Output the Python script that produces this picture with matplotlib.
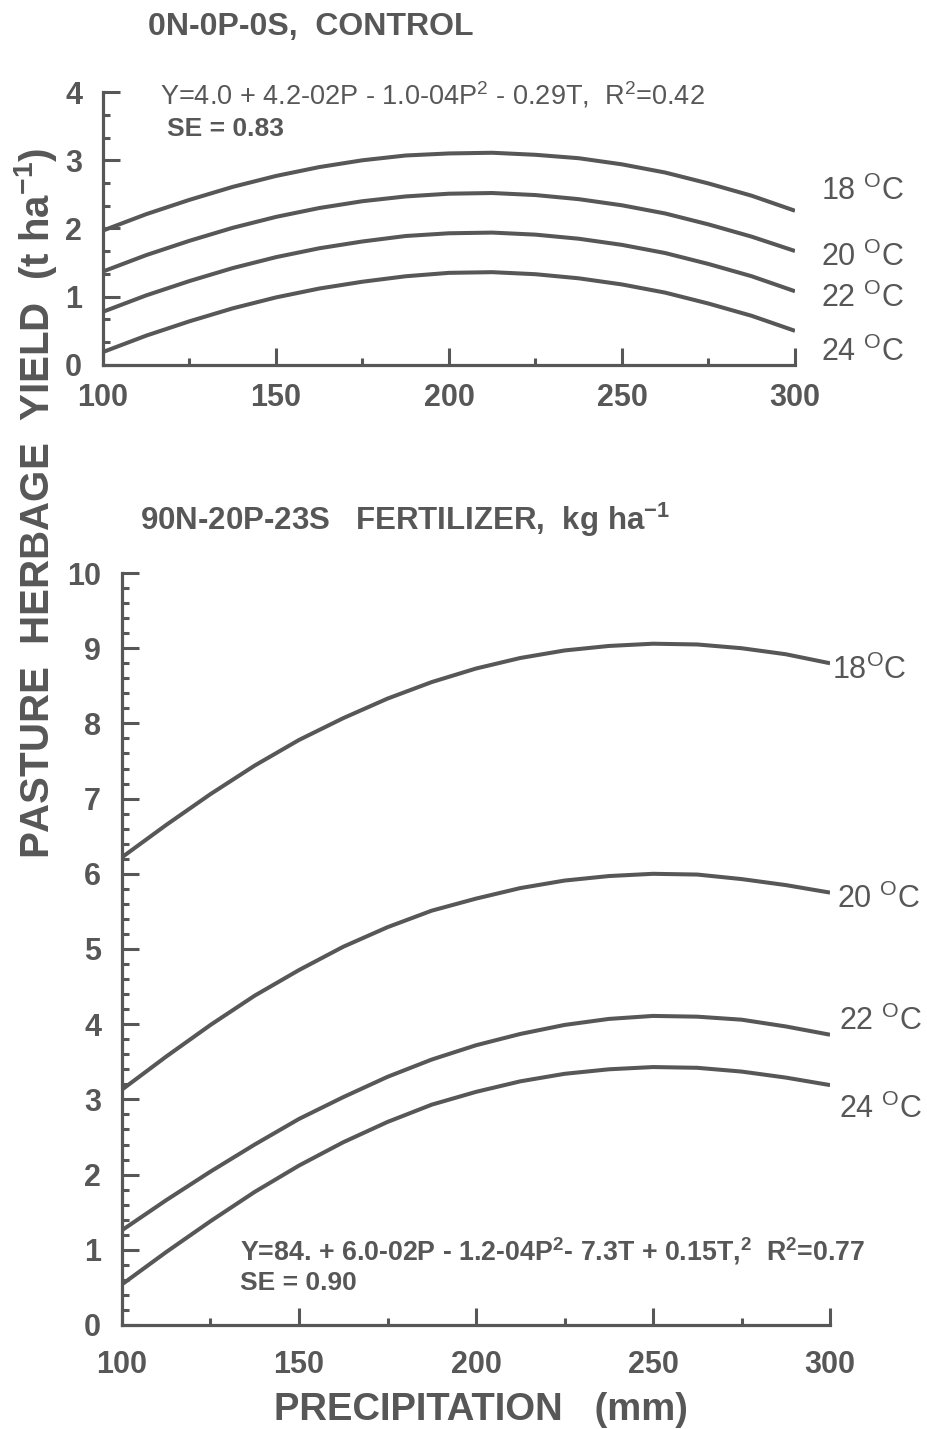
import matplotlib
matplotlib.use("Agg")
import matplotlib.pyplot as plt
from matplotlib.ticker import FixedLocator, MultipleLocator
from matplotlib import font_manager

# precipitation (mm) at which the curves were read
precip = [100, 112.5, 125, 137.5, 150, 162.5, 175, 187.5, 200,
          212.5, 225, 237.5, 250, 262.5, 275, 287.5, 300]

# control plot 0N-0P-0S, yield t/ha
temps = ["18", "20", "22", "24"]
ctrl_18 = [1.97, 2.21, 2.42, 2.61, 2.77, 2.90, 3.00, 3.07, 3.10, 3.11, 3.08, 3.03, 2.94, 2.82, 2.66, 2.48, 2.26]
ctrl_20 = [1.37, 1.61, 1.82, 2.01, 2.17, 2.30, 2.40, 2.47, 2.51, 2.52, 2.49, 2.43, 2.34, 2.22, 2.06, 1.88, 1.67]
ctrl_22 = [0.78, 1.02, 1.23, 1.42, 1.58, 1.71, 1.81, 1.89, 1.93, 1.94, 1.91, 1.85, 1.76, 1.64, 1.48, 1.30, 1.08]
ctrl_24 = [0.19, 0.43, 0.64, 0.83, 0.99, 1.12, 1.22, 1.30, 1.35, 1.36, 1.33, 1.27, 1.18, 1.06, 0.90, 0.72, 0.50]

# fertilized plot 90N-20P-23S
fert_18 = [6.22, 6.65, 7.06, 7.44, 7.78, 8.07, 8.33, 8.55, 8.73, 8.87, 8.97, 9.03, 9.06, 9.05, 9.00, 8.92, 8.80]
fert_20 = [3.13, 3.57, 3.99, 4.38, 4.72, 5.03, 5.29, 5.51, 5.67, 5.81, 5.91, 5.97, 6.00, 5.99, 5.93, 5.85, 5.75]
fert_22 = [1.26, 1.66, 2.04, 2.40, 2.74, 3.03, 3.30, 3.53, 3.72, 3.87, 3.99, 4.07, 4.11, 4.10, 4.06, 3.97, 3.86]
fert_24 = [0.54, 0.97, 1.38, 1.77, 2.12, 2.43, 2.70, 2.93, 3.10, 3.24, 3.34, 3.40, 3.43, 3.42, 3.37, 3.29, 3.19]

x_major = [100, 150, 200, 250, 300]
x_minor = [125, 175, 225, 275]

GREY = "#575757"
plt.rcParams['font.family'] = ['Liberation Sans', 'DejaVu Sans']
plt.rcParams['mathtext.default'] = 'regular'
plt.rcParams['text.color'] = GREY

names = [f.name for f in font_manager.fontManager.ttflist]
narrow = 'Liberation Sans Narrow' if 'Liberation Sans Narrow' in names else 'Liberation Sans'

fig = plt.figure(figsize=(9.27, 14.29), dpi=100)
ax1 = fig.add_axes([0.1111, 0.7446, 0.7465, 0.1910])
ax2 = fig.add_axes([0.1316, 0.0728, 0.7638, 0.5262])


def style(ax, ymax, yminor, xpad, ypad):
    ax.set_xlim(100, 300)
    ax.set_ylim(0, ymax)
    for s in ['top', 'right']:
        ax.spines[s].set_visible(False)
    for s in ['left', 'bottom']:
        ax.spines[s].set_linewidth(2.3)
        ax.spines[s].set_color(GREY)
    ax.xaxis.set_major_locator(FixedLocator(x_major))
    ax.xaxis.set_minor_locator(FixedLocator(x_minor))
    ax.yaxis.set_major_locator(MultipleLocator(1))
    ax.yaxis.set_minor_locator(MultipleLocator(yminor))
    ax.tick_params(which='major', direction='in', length=12, width=2.2, color=GREY,
                   labelsize=22, labelcolor=GREY)
    ax.tick_params(which='minor', direction='in', length=5, width=2.2, color=GREY)
    ax.tick_params(axis='x', which='major', pad=xpad)
    ax.tick_params(axis='y', which='major', pad=ypad)
    for lab in ax.get_xticklabels() + ax.get_yticklabels():
        lab.set_fontweight('bold')


style(ax1, 4, 1 / 3, 13, 15)
style(ax2, 10, 0.2, 18, 15)

for ys in [ctrl_18, ctrl_20, ctrl_22, ctrl_24]:
    ax1.plot(precip, ys, color=GREY, lw=2.9, solid_capstyle='butt')
for ys in [fert_18, fert_20, fert_22, fert_24]:
    ax2.plot(precip, ys, color=GREY, lw=2.9, solid_capstyle='butt')

# temperature labels
ctrl_lab_y = [2.55, 1.57, 0.97, 0.19]
for t, y in zip(temps, ctrl_lab_y):
    ax1.text(307.5, y, t + r' $^{O}$C', fontsize=22, va='center', ha='left', clip_on=False)
fert_lab = [(300.5, 8.70, ''), (302, 5.66, ' '), (302.5, 4.04, ' '), (302.5, 2.87, ' ')]
for t, (x, y, gap) in zip(temps, fert_lab):
    ax2.text(x, y, t + gap + r'$^{O}$C', fontsize=22, va='center', ha='left', clip_on=False)

# regression equations
ax1.text(116.5, 3.82, r'Y=4.0 + 4.2-02P - 1.0-04P$^{2}$ - 0.29T,  R$^{2}$=0.42',
         fontsize=19.5, family=[narrow, 'DejaVu Sans'], va='baseline')
ax1.text(118.5, 3.36, 'SE = 0.83', fontsize=19, fontweight='bold', va='baseline')
ax2.text(133.3, 0.86, r'Y=84. + 6.0-02P - 1.2-04P$^{2}$- 7.3T + 0.15T,$^{2}$  R$^{2}$=0.77',
         fontsize=19.3, fontweight='bold', va='baseline')
ax2.text(133.3, 0.46, 'SE = 0.90', fontsize=19, fontweight='bold', va='baseline')

# panel titles and axis labels
fig.text(148 / 927, 0.9755, '0N-0P-0S,  CONTROL', fontsize=23, fontweight='bold',
         family=[narrow, 'DejaVu Sans'], va='baseline')
fig.text(140 / 927, 0.629, r'90N-20P-23S   FERTILIZER,  kg ha$^{-1}$', fontsize=22.5,
         fontweight='bold', va='baseline')
fig.text(0.519, 0.006, 'PRECIPITATION   (mm)', fontsize=27.5, fontweight='bold',
         ha='center', va='baseline')
fig.text(0.038, 0.648, r'PASTURE  HERBAGE  YIELD  (t ha$^{-1}$)', fontsize=29,
         fontweight='bold', rotation=90, ha='center', va='center')

fig.savefig('out.png', dpi=100)
